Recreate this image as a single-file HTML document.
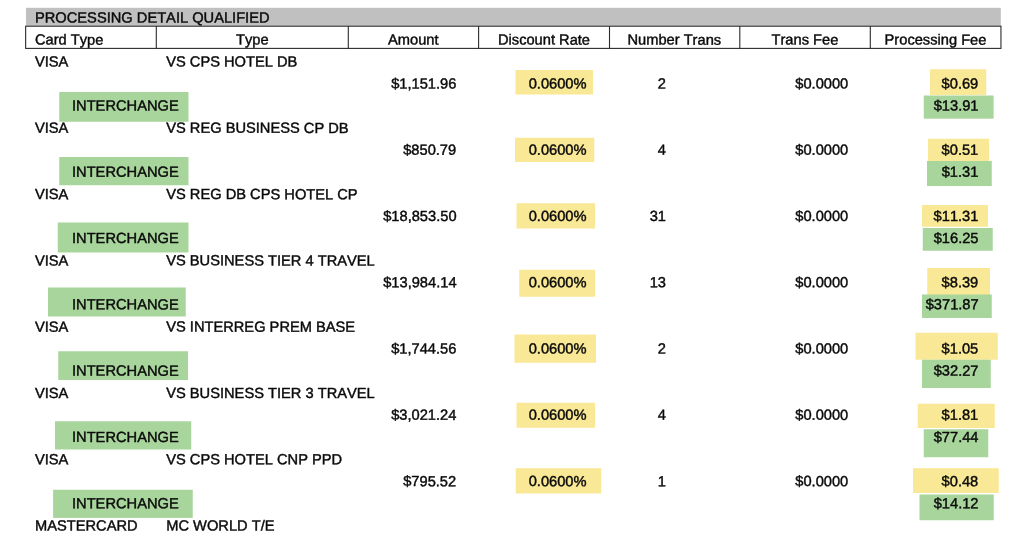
<!DOCTYPE html>
<html lang="en"><head><meta charset="utf-8"><title>Processing Detail Qualified</title>
<style>
html,body{margin:0;padding:0;background:#fff;}
body{width:1024px;height:540px;position:relative;overflow:hidden;font-family:"Liberation Sans",Arial,Helvetica,sans-serif;font-size:14.667px;color:#0a0a0a;text-rendering:geometricPrecision;font-kerning:none;-webkit-text-stroke:0.42px #0a0a0a;}
.txt{position:absolute;left:0;top:0;width:1024px;height:540px;}
.t{position:absolute;white-space:nowrap;line-height:22px;height:22px;}
.r{text-align:right;}
.c{text-align:center;}
.hl{position:absolute;}
.shapes{position:absolute;left:0;top:0;}
.g{fill:#a8d59b;}
.y{fill:#f9e895;}
.bar{fill:#c0c0c0;}
.ln{fill:none;stroke:#2a2a2a;stroke-width:1.1;}
</style></head><body>

<svg class="shapes" width="1024" height="540" viewBox="0 0 1024 540">
<rect class="y" x="515.50" y="70.00" width="77.50" height="24.50"/>
<rect class="y" x="515.00" y="137.75" width="79.25" height="24.25"/>
<rect class="y" x="516.50" y="203.25" width="78.50" height="25.25"/>
<rect class="y" x="519.25" y="269.75" width="75.75" height="27.00"/>
<rect class="y" x="514.50" y="334.50" width="81.50" height="28.25"/>
<rect class="y" x="516.50" y="402.75" width="78.50" height="25.00"/>
<rect class="y" x="515.75" y="468.25" width="85.50" height="25.25"/>
<rect class="y" x="930.00" y="69.25" width="56.25" height="25.75"/>
<rect class="y" x="928.00" y="138.75" width="61.00" height="22.25"/>
<rect class="y" x="922.00" y="205.00" width="66.00" height="21.75"/>
<rect class="y" x="927.25" y="268.00" width="62.75" height="27.00"/>
<rect class="y" x="915.50" y="332.75" width="82.25" height="27.00"/>
<rect class="y" x="917.75" y="403.75" width="77.00" height="24.25"/>
<rect class="y" x="913.00" y="468.20" width="85.75" height="24.80"/>
<rect class="g" x="59.25" y="92.00" width="129.25" height="29.75"/>
<rect class="g" x="59.25" y="157.00" width="129.25" height="28.25"/>
<rect class="g" x="57.75" y="222.50" width="130.75" height="30.00"/>
<rect class="g" x="48.00" y="287.50" width="137.75" height="29.00"/>
<rect class="g" x="58.25" y="351.25" width="129.75" height="28.75"/>
<rect class="g" x="55.00" y="421.25" width="136.25" height="28.25"/>
<rect class="g" x="53.10" y="489.75" width="139.65" height="28.15"/>
<rect class="g" x="923.75" y="95.50" width="69.85" height="23.20"/>
<rect class="g" x="927.00" y="161.00" width="64.75" height="25.00"/>
<rect class="g" x="922.75" y="228.00" width="70.00" height="22.75"/>
<rect class="g" x="922.00" y="294.50" width="69.75" height="23.50"/>
<rect class="g" x="922.00" y="359.75" width="68.75" height="28.25"/>
<rect class="g" x="923.75" y="429.25" width="64.50" height="28.00"/>
<rect class="g" x="919.50" y="494.50" width="74.25" height="25.75"/>
<rect class="bar" x="26" y="7.8" width="974.8" height="18"/>
<rect class="ln" x="25.65" y="26.2" width="975.3" height="22.2"/>
<line class="ln" x1="156.3" y1="26.2" x2="156.3" y2="48.4"/>
<line class="ln" x1="348.3" y1="26.2" x2="348.3" y2="48.4"/>
<line class="ln" x1="478.6" y1="26.2" x2="478.6" y2="48.4"/>
<line class="ln" x1="609.5" y1="26.2" x2="609.5" y2="48.4"/>
<line class="ln" x1="739.8" y1="26.2" x2="739.8" y2="48.4"/>
<line class="ln" x1="870.3" y1="26.2" x2="870.3" y2="48.4"/>
</svg>
<div class="txt">
<div class="t" style="left:35px;top:7px;transform:translate(0.00px,0.51px) rotate(0.05deg)">PROCESSING DETAIL QUALIFIED</div>
<div class="t" style="left:35px;top:29px;transform:translate(0.00px,0.61px) rotate(0.05deg)">Card Type</div>
<div class="t c" style="left:102px;width:300px;top:29px;transform:translate(0.30px,0.61px) rotate(0.05deg)">Type</div>
<div class="t c" style="left:263px;width:300px;top:29px;transform:translate(0.30px,0.61px) rotate(0.05deg)">Amount</div>
<div class="t c" style="left:394px;width:300px;top:29px;transform:translate(0.00px,0.61px) rotate(0.05deg)">Discount Rate</div>
<div class="t c" style="left:524px;width:300px;top:29px;transform:translate(0.30px,0.61px) rotate(0.05deg)">Number Trans</div>
<div class="t c" style="left:654px;width:300px;top:29px;transform:translate(0.90px,0.61px) rotate(0.05deg)">Trans Fee</div>
<div class="t c" style="left:785px;width:300px;top:29px;transform:translate(0.50px,0.61px) rotate(0.05deg)">Processing Fee</div>
<div class="t" style="left:35px;top:51px;transform:translate(0.00px,0.56px) rotate(0.05deg)">VISA</div>
<div class="t" style="left:166px;top:51px;transform:translate(0.20px,0.56px) rotate(0.05deg)">VS CPS HOTEL DB</div>
<div class="t r" style="right:568px;top:73px;transform:translate(0.20px,0.46px) rotate(0.05deg)">$1,151.96</div>
<div class="t r" style="right:438px;top:73px;transform:translate(0.70px,0.46px) rotate(0.05deg)">0.0600%</div>
<div class="t r" style="right:359px;top:73px;transform:translate(0.70px,0.46px) rotate(0.05deg)">2</div>
<div class="t r" style="right:176px;top:73px;transform:translate(0.30px,0.46px) rotate(0.05deg)">$0.0000</div>
<div class="t r" style="right:46px;top:73px;transform:translate(0.60px,0.46px) rotate(0.05deg)">$0.69</div>
<div class="t" style="left:72px;top:95px;transform:translate(0.00px,0.51px) rotate(0.05deg)">INTERCHANGE</div>
<div class="t r" style="right:46px;top:95px;transform:translate(0.70px,0.51px) rotate(0.05deg)">$13.91</div>
<div class="t" style="left:35px;top:117px;transform:translate(0.00px,0.84px) rotate(0.05deg)">VISA</div>
<div class="t" style="left:166px;top:117px;transform:translate(0.20px,0.84px) rotate(0.05deg)">VS REG BUSINESS CP DB</div>
<div class="t r" style="right:568px;top:139px;transform:translate(0.20px,0.74px) rotate(0.05deg)">$850.79</div>
<div class="t r" style="right:438px;top:139px;transform:translate(0.70px,0.74px) rotate(0.05deg)">0.0600%</div>
<div class="t r" style="right:359px;top:139px;transform:translate(0.70px,0.74px) rotate(0.05deg)">4</div>
<div class="t r" style="right:176px;top:139px;transform:translate(0.30px,0.74px) rotate(0.05deg)">$0.0000</div>
<div class="t r" style="right:46px;top:139px;transform:translate(0.60px,0.74px) rotate(0.05deg)">$0.51</div>
<div class="t" style="left:72px;top:161px;transform:translate(0.00px,0.79px) rotate(0.05deg)">INTERCHANGE</div>
<div class="t r" style="right:46px;top:161px;transform:translate(0.70px,0.79px) rotate(0.05deg)">$1.31</div>
<div class="t" style="left:35px;top:184px;transform:translate(0.00px,0.12px) rotate(0.05deg)">VISA</div>
<div class="t" style="left:166px;top:184px;transform:translate(0.20px,0.12px) rotate(0.05deg)">VS REG DB CPS HOTEL CP</div>
<div class="t r" style="right:568px;top:206px;transform:translate(0.20px,0.02px) rotate(0.05deg)">$18,853.50</div>
<div class="t r" style="right:438px;top:206px;transform:translate(0.70px,0.02px) rotate(0.05deg)">0.0600%</div>
<div class="t r" style="right:359px;top:206px;transform:translate(0.70px,0.02px) rotate(0.05deg)">31</div>
<div class="t r" style="right:176px;top:206px;transform:translate(0.30px,0.02px) rotate(0.05deg)">$0.0000</div>
<div class="t r" style="right:46px;top:206px;transform:translate(0.60px,0.02px) rotate(0.05deg)">$11.31</div>
<div class="t" style="left:72px;top:228px;transform:translate(0.00px,0.07px) rotate(0.05deg)">INTERCHANGE</div>
<div class="t r" style="right:46px;top:228px;transform:translate(0.70px,0.07px) rotate(0.05deg)">$16.25</div>
<div class="t" style="left:35px;top:250px;transform:translate(0.00px,0.40px) rotate(0.05deg)">VISA</div>
<div class="t" style="left:166px;top:250px;transform:translate(0.20px,0.40px) rotate(0.05deg)">VS BUSINESS TIER 4 TRAVEL</div>
<div class="t r" style="right:568px;top:272px;transform:translate(0.20px,0.30px) rotate(0.05deg)">$13,984.14</div>
<div class="t r" style="right:438px;top:272px;transform:translate(0.70px,0.30px) rotate(0.05deg)">0.0600%</div>
<div class="t r" style="right:359px;top:272px;transform:translate(0.70px,0.30px) rotate(0.05deg)">13</div>
<div class="t r" style="right:176px;top:272px;transform:translate(0.30px,0.30px) rotate(0.05deg)">$0.0000</div>
<div class="t r" style="right:46px;top:272px;transform:translate(0.60px,0.30px) rotate(0.05deg)">$8.39</div>
<div class="t" style="left:72px;top:294px;transform:translate(0.00px,0.35px) rotate(0.05deg)">INTERCHANGE</div>
<div class="t r" style="right:46px;top:294px;transform:translate(0.70px,0.35px) rotate(0.05deg)">$371.87</div>
<div class="t" style="left:35px;top:316px;transform:translate(0.00px,0.68px) rotate(0.05deg)">VISA</div>
<div class="t" style="left:166px;top:316px;transform:translate(0.20px,0.68px) rotate(0.05deg)">VS INTERREG PREM BASE</div>
<div class="t r" style="right:568px;top:338px;transform:translate(0.20px,0.58px) rotate(0.05deg)">$1,744.56</div>
<div class="t r" style="right:438px;top:338px;transform:translate(0.70px,0.58px) rotate(0.05deg)">0.0600%</div>
<div class="t r" style="right:359px;top:338px;transform:translate(0.70px,0.58px) rotate(0.05deg)">2</div>
<div class="t r" style="right:176px;top:338px;transform:translate(0.30px,0.58px) rotate(0.05deg)">$0.0000</div>
<div class="t r" style="right:46px;top:338px;transform:translate(0.60px,0.58px) rotate(0.05deg)">$1.05</div>
<div class="t" style="left:72px;top:360px;transform:translate(0.00px,0.63px) rotate(0.05deg)">INTERCHANGE</div>
<div class="t r" style="right:46px;top:360px;transform:translate(0.70px,0.63px) rotate(0.05deg)">$32.27</div>
<div class="t" style="left:35px;top:382px;transform:translate(0.00px,0.96px) rotate(0.05deg)">VISA</div>
<div class="t" style="left:166px;top:382px;transform:translate(0.20px,0.96px) rotate(0.05deg)">VS BUSINESS TIER 3 TRAVEL</div>
<div class="t r" style="right:568px;top:404px;transform:translate(0.20px,0.86px) rotate(0.05deg)">$3,021.24</div>
<div class="t r" style="right:438px;top:404px;transform:translate(0.70px,0.86px) rotate(0.05deg)">0.0600%</div>
<div class="t r" style="right:359px;top:404px;transform:translate(0.70px,0.86px) rotate(0.05deg)">4</div>
<div class="t r" style="right:176px;top:404px;transform:translate(0.30px,0.86px) rotate(0.05deg)">$0.0000</div>
<div class="t r" style="right:46px;top:404px;transform:translate(0.60px,0.86px) rotate(0.05deg)">$1.81</div>
<div class="t" style="left:72px;top:426px;transform:translate(0.00px,0.91px) rotate(0.05deg)">INTERCHANGE</div>
<div class="t r" style="right:46px;top:426px;transform:translate(0.70px,0.91px) rotate(0.05deg)">$77.44</div>
<div class="t" style="left:35px;top:449px;transform:translate(0.00px,0.24px) rotate(0.05deg)">VISA</div>
<div class="t" style="left:166px;top:449px;transform:translate(0.20px,0.24px) rotate(0.05deg)">VS CPS HOTEL CNP PPD</div>
<div class="t r" style="right:568px;top:471px;transform:translate(0.20px,0.14px) rotate(0.05deg)">$795.52</div>
<div class="t r" style="right:438px;top:471px;transform:translate(0.70px,0.14px) rotate(0.05deg)">0.0600%</div>
<div class="t r" style="right:359px;top:471px;transform:translate(0.70px,0.14px) rotate(0.05deg)">1</div>
<div class="t r" style="right:176px;top:471px;transform:translate(0.30px,0.14px) rotate(0.05deg)">$0.0000</div>
<div class="t r" style="right:46px;top:471px;transform:translate(0.60px,0.14px) rotate(0.05deg)">$0.48</div>
<div class="t" style="left:72px;top:493px;transform:translate(0.00px,0.19px) rotate(0.05deg)">INTERCHANGE</div>
<div class="t r" style="right:46px;top:493px;transform:translate(0.70px,0.19px) rotate(0.05deg)">$14.12</div>
<div class="t" style="left:35px;top:515px;transform:translate(0.00px,0.52px) rotate(0.05deg)">MASTERCARD</div>
<div class="t" style="left:166px;top:515px;transform:translate(0.20px,0.52px) rotate(0.05deg)">MC WORLD T/E</div>
</div>
</body></html>
